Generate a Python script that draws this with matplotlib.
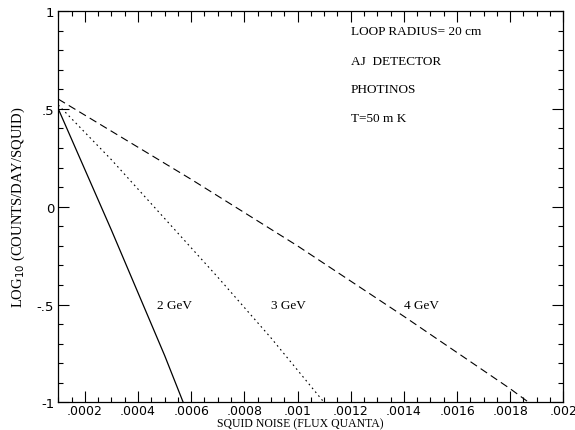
import numpy as np
import matplotlib.pyplot as plt
from matplotlib.ticker import MultipleLocator, FuncFormatter

# values
x_2gev = [0.0001, 0.0002, 0.0003, 0.0004, 0.0005, 0.00057]
y_2gev = [0.50, 0.19, -0.12, -0.44, -0.76, -1.0]
x_3gev = [0.0001, 0.0003, 0.0005, 0.0007, 0.0009, 0.0011]
y_3gev = [0.52, 0.24, -0.06, -0.36, -0.67, -1.0]
x_4gev = [0.0001, 0.0006, 0.0010, 0.0014, 0.0018, 0.00187]
y_4gev = [0.55, 0.14, -0.20, -0.56, -0.93, -1.0]

curve_labels = ['2 GeV', '3 GeV', '4 GeV']
label_x = [0.00047, 0.00090, 0.00140]
label_y = [-0.5, -0.5, -0.5]

notes = ['LOOP RADIUS= 20 cm', 'AJ  DETECTOR', 'PHOTINOS', 'T=50 m K']
notes_y = [0.90, 0.745, 0.60, 0.452]

serif = 'Liberation Serif'

fig = plt.figure(figsize=(5.75, 4.31), dpi=100)
ax = fig.add_axes([0.1014, 0.064, 0.8783, 0.908])

ax.plot(x_2gev, y_2gev, color='black', lw=0.9, ls='-')
ax.plot(x_3gev, y_3gev, color='black', lw=0.8, ls=(0, (1.5, 3)))
ax.plot(x_4gev, y_4gev, color='black', lw=0.8, ls=(0, (7, 4)))

for t, lx, ly in zip(curve_labels, label_x, label_y):
    ax.text(lx, ly, t, fontsize=9.5, family=serif, va='center', ha='left')

for t, ny in zip(notes, notes_y):
    ax.text(0.0012, ny, t, fontsize=9.5, family=serif, va='center', ha='left')

ax.set_xlim(0.0001, 0.002)
ax.set_ylim(-1, 1)
ax.xaxis.set_major_locator(MultipleLocator(0.0002))
ax.xaxis.set_minor_locator(MultipleLocator(0.00005))
ax.yaxis.set_major_locator(MultipleLocator(0.5))
ax.yaxis.set_minor_locator(MultipleLocator(0.1))


def xfmt(v, pos):
    s = ('%.4f' % v).rstrip('0')
    return s[1:] if s.startswith('0') else s


def yfmt(v, pos):
    if abs(v - round(v)) < 1e-9:
        return '%d' % round(v)
    return ('%.1f' % v).replace('0.', '.')


ax.xaxis.set_major_formatter(FuncFormatter(xfmt))
ax.yaxis.set_major_formatter(FuncFormatter(yfmt))
ax.tick_params(which='both', direction='in', top=True, right=True, width=0.8)
ax.tick_params(which='major', length=8, labelsize=9.5, pad=3)
ax.tick_params(axis='x', which='major', labelsize=9, pad=1.5)
ax.tick_params(which='minor', length=3.5)
for sp in ax.spines.values():
    sp.set_linewidth(0.9)

ax.set_xlabel('SQUID NOISE (FLUX QUANTA)', fontsize=8.5, family=serif)
ax.xaxis.set_label_coords(0.48, -0.037)
ax.set_ylabel('LOG$_{10}$ (COUNTS/DAY/SQUID)', fontsize=10.5, family=serif, labelpad=7)

fig.savefig('out.png', dpi=100)
